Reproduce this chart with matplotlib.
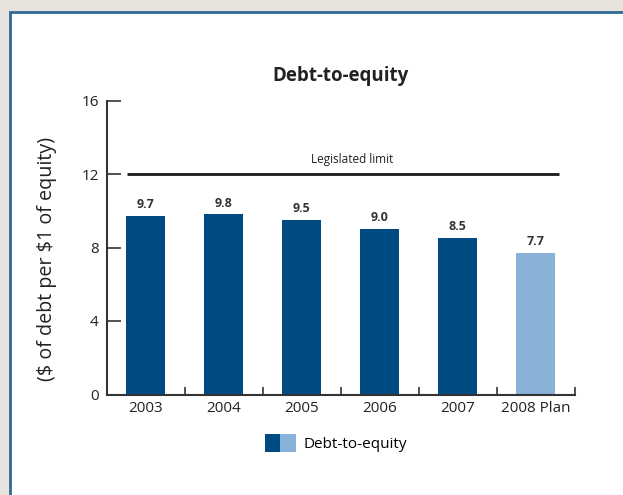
import matplotlib.pyplot as plt
from matplotlib.patches import Rectangle, Patch
from matplotlib.legend_handler import HandlerTuple

plt.rcParams['font.family'] = ['Open Sans', 'DejaVu Sans']

years = ['2003', '2004', '2005', '2006', '2007', '2008 Plan']
debt_to_equity = [9.7, 9.8, 9.5, 9.0, 8.5, 7.7]
legislated_limit = 12
y_ticks = [0, 4, 8, 12, 16]

dark_blue = '#004a82'
light_blue = '#88b2d8'
colors = [dark_blue] * 5 + [light_blue]

fig = plt.figure(figsize=(6.23, 4.95), dpi=100)
fig.patch.set_facecolor('#e6e2dc')

# white panel with a blue rule on the left and top
panel = Rectangle((9.5 / 623, -0.05), 1.0, (495 - 11.5) / 495 + 0.05,
                  transform=fig.transFigure, facecolor='white',
                  edgecolor='#2e6a98', linewidth=2.0, zorder=-1)
fig.patches.append(panel)

ax = fig.add_axes([107 / 623, (495 - 394.5) / 495, (574.5 - 107) / 623, 294 / 495])
ax.set_facecolor('none')

x = range(len(years))
bars = ax.bar(x, debt_to_equity, width=0.5, color=colors, zorder=2)

for xi, v in zip(x, debt_to_equity):
    ax.annotate(f'{v:.1f}', (xi, v), xytext=(0, 3.5), textcoords='offset points',
                ha='center', va='bottom', fontsize=9, fontweight='bold',
                color='#333333')

ax.hlines(legislated_limit, -0.24, 5.3, color='#1a1a1a', linewidth=2, zorder=3)
ax.text(2.65, legislated_limit + 0.45, 'Legislated limit', ha='center',
        va='bottom', fontsize=8.5, color='#222222')

ax.set_xlim(-0.5, 5.5)
ax.set_ylim(0, 16)
ax.set_yticks(y_ticks)
ax.set_xticks(list(x))
ax.set_xticklabels(years)
ax.set_xticks([i + 0.5 for i in range(-1, 6)], minor=True)

for side in ['top', 'right']:
    ax.spines[side].set_visible(False)
for side in ['left', 'bottom']:
    ax.spines[side].set_color('#333333')
    ax.spines[side].set_linewidth(1.5)

ax.tick_params(axis='y', direction='in', length=10, width=1.2, color='#333333',
               labelsize=11, labelcolor='#222222', pad=6)
ax.tick_params(axis='x', which='major', length=0, labelsize=11,
               labelcolor='#222222', pad=5)
ax.tick_params(axis='x', which='minor', direction='in', length=6, width=1.2,
               color='#333333')

ax.set_ylabel(r'(\$ of debt per \$1 of equity)', fontsize=14.2, color='#222222')
ax.yaxis.set_label_coords(-0.107, 0.46)
ax.set_title('Debt-to-equity', fontsize=13.5, fontweight='bold',
             color='#222222', pad=14)

handle = (Patch(facecolor=dark_blue), Patch(facecolor=light_blue))
fig.legend([handle], ['Debt-to-equity'], loc='center',
           bbox_to_anchor=(336 / 623, 1 - 443 / 495),
           handler_map={tuple: HandlerTuple(ndivide=None, pad=0)},
           frameon=False, fontsize=11, handlelength=2.0, handleheight=1.4,
           handletextpad=0.5)

fig.savefig('out.png', dpi=100, facecolor=fig.get_facecolor())
